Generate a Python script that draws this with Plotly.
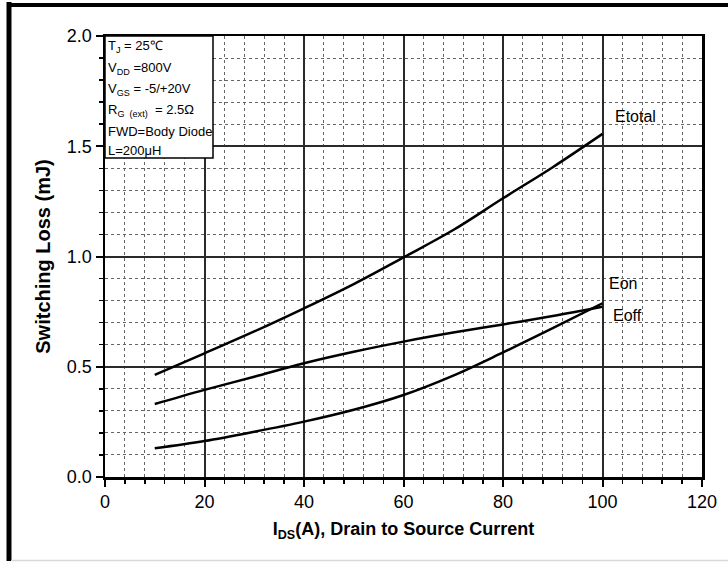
import plotly.graph_objects as go

# ---- data ----
ids_a = [10, 20, 30, 40, 50, 60, 70, 80, 90, 100]
e_total = [0.463, 0.561, 0.660, 0.765, 0.875, 0.996, 1.120, 1.264, 1.405, 1.556]
e_on = [0.331, 0.395, 0.455, 0.516, 0.568, 0.614, 0.655, 0.692, 0.730, 0.772]
e_off = [0.130, 0.163, 0.205, 0.251, 0.305, 0.372, 0.460, 0.565, 0.675, 0.788]
series_names = ["Etotal", "Eon", "Eoff"]

x_ticks = [0, 20, 40, 60, 80, 100, 120]
y_ticks = [0.0, 0.5, 1.0, 1.5, 2.0]
y_tick_text = ["0.0", "0.5", "1.0", "1.5", "2.0"]

conditions = [
    "T<sub>J</sub> = 25\u2103",
    "V<sub>DD</sub> =800V",
    "V<sub>GS</sub> = -5/+20V",
    "R<sub>G  (ext)</sub>  = 2.5\u03a9",
    "FWD=Body Diode",
    "L=200\u03bcH",
]

FONT = "Arial, Liberation Sans, sans-serif"
W, H = 728, 562
L, R, T, B = 105, 26, 36, 85
PW, PH = W - L - R, H - T - B


def px(p):
    return (p - L) / PW


def py(q):
    return (H - B - q) / PH


fig = go.Figure()
for name, ys in zip(series_names, [e_total, e_on, e_off]):
    fig.add_trace(go.Scatter(x=ids_a, y=ys, mode="lines", name=name,
                             line=dict(color="black", width=2.5, shape="spline", smoothing=1.0),
                             showlegend=False))

# curve labels
label_pos = {"Etotal": (635, 116.7), "Eon": (623, 283), "Eoff": (627.5, 315)}
for name in series_names:
    cx, cy = label_pos[name]
    fig.add_annotation(xref="paper", yref="paper", x=px(cx), y=py(cy), text=name,
                       showarrow=False, xanchor="center", yanchor="middle",
                       font=dict(family=FONT, size=16, color="black"))

# conditions box
fig.add_shape(type="rect", xref="paper", yref="paper", x0=px(105), x1=px(213),
              y0=py(158), y1=py(36), fillcolor="white",
              line=dict(color="black", width=1.5), layer="above")
line_y = [46.7, 68.3, 89.3, 110.5, 131.7, 150.8]
for txt, yy in zip(conditions, line_y):
    fig.add_annotation(xref="paper", yref="paper", x=px(106), y=py(yy), text=txt,
                       showarrow=False, xanchor="left", yanchor="middle",
                       font=dict(family=FONT, size=13, color="black"))

# outer frame (left and top thick lines, faint bottom line)
fig.add_shape(type="line", xref="paper", yref="paper", x0=px(9), x1=px(9),
              y0=py(2), y1=py(561), line=dict(color="black", width=5))
fig.add_shape(type="line", xref="paper", yref="paper", x0=px(7), x1=px(728),
              y0=py(5), y1=py(5), line=dict(color="black", width=4))
fig.add_shape(type="line", xref="paper", yref="paper", x0=px(11), x1=px(728),
              y0=py(560.5), y1=py(560.5), line=dict(color="#d8d8d8", width=1.5))

fig.update_layout(
    width=W, height=H,
    margin=dict(l=L, r=R, t=T, b=B, autoexpand=False),
    paper_bgcolor="white", plot_bgcolor="white",
    font=dict(family=FONT, color="black"),
    xaxis=dict(
        range=[0, 120], tickvals=x_ticks, ticktext=[str(v) for v in x_ticks],
        showline=True, linecolor="black", linewidth=2.5, mirror=True,
        ticks="outside", ticklen=7, tickwidth=2, tickcolor="black",
        tickfont=dict(size=18, family=FONT),
        showgrid=True, gridcolor="#2a2a2a", gridwidth=2, zeroline=False,
        minor=dict(dtick=4, tick0=0, showgrid=True, gridcolor="#666666", gridwidth=1,
                   griddash="dot", ticks="outside", ticklen=4, tickwidth=1.5, tickcolor="black"),
        title=dict(text="<b>I<sub>DS</sub>(A), Drain to Source Current</b>",
                   font=dict(size=18, family=FONT), standoff=12),
        automargin=False,
    ),
    yaxis=dict(
        range=[0, 2.0], tickvals=y_ticks, ticktext=y_tick_text,
        showline=True, linecolor="black", linewidth=2.5, mirror=True,
        ticks="outside", ticklen=7, tickwidth=2, tickcolor="black",
        tickfont=dict(size=18, family=FONT),
        showgrid=True, gridcolor="#2a2a2a", gridwidth=2, zeroline=False,
        minor=dict(dtick=0.1, tick0=0, showgrid=True, gridcolor="#666666", gridwidth=1,
                   griddash="dot", ticks="outside", ticklen=4, tickwidth=1.5, tickcolor="black"),
        title=dict(text="<b>Switching Loss (mJ)</b>", font=dict(size=20, family=FONT), standoff=11),
        automargin=False,
    ),
)

fig.write_html(
    "out.html",
    config={"displayModeBar": False, "staticPlot": True},
    post_script="document.body.style.margin='0';document.body.style.overflow='hidden';",
)
